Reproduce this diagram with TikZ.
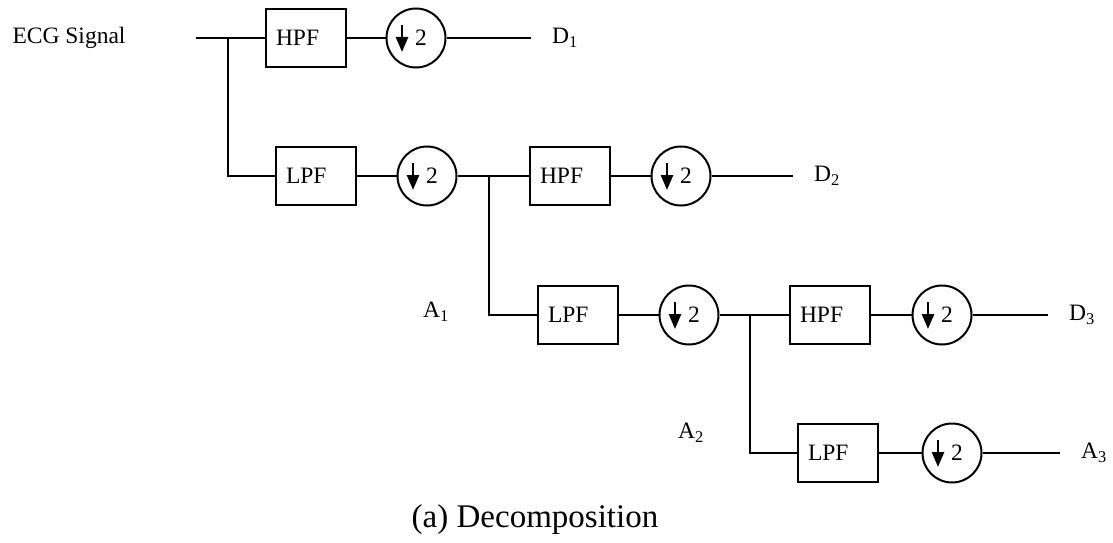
\documentclass[tikz,border=0pt]{standalone}
\usepackage{fontspec}
\setmainfont{Liberation Serif}
\usetikzlibrary{arrows.meta}
\newcommand{\dwtfont}{\fontsize{23.5}{27}\selectfont}
\newcommand{\capfont}{\fontsize{33}{38}\selectfont}

\begin{document}
\begin{tikzpicture}[
    x=1pt,y=-1pt,line width=2pt,
    filt/.style={draw,minimum width=80pt,minimum height=58pt,text width=60pt,align=left,inner xsep=8pt,inner ysep=0pt,font=\dwtfont},
    down/.style={draw,circle,minimum size=59pt,inner sep=0pt,font=\dwtfont},
    tag/.style={inner sep=0pt,outer xsep=21pt,font=\dwtfont},
    side/.style={inner sep=0pt,font=\dwtfont},
    dnarrow/.style={-{Triangle[width=12pt,length=15pt]},line width=2.6pt}
  ]
  \useasboundingbox (0,0) rectangle (1113,543);

  \node[side] (ecg) at (69,38) {ECG Signal};
  \coordinate (in) at (196,38);
  \coordinate (j1) at (228,38);
  \coordinate (j2) at (489,176);
  \coordinate (j3) at (750,315);

  % level 1
  \node[filt] (hpf1) at (306,38) {HPF};
  \node[down] (ds1) at (416,38) {\hspace*{10pt}2};
  \node[tag] (D1) at (565,38) {D\textsubscript{1}};

  % level 2
  \node[filt] (lpf2) at (316,176) {LPF};
  \node[down] (ds2) at (427,176) {\hspace*{10pt}2};
  \node[filt] (hpf2) at (570,176) {HPF};
  \node[down] (ds3) at (681,176) {\hspace*{10pt}2};
  \node[tag] (D2) at (827,176) {D\textsubscript{2}};
  \node[side] (A1) at (436,312) {A\textsubscript{1}};

  % level 3
  \node[filt] (lpf3) at (578,315) {LPF};
  \node[down] (ds4) at (689,315) {\hspace*{10pt}2};
  \node[filt] (hpf3) at (830,315) {HPF};
  \node[down] (ds5) at (942,315) {\hspace*{10pt}2};
  \node[tag] (D3) at (1082,315) {D\textsubscript{3}};
  \node[side] (A2) at (691,433) {A\textsubscript{2}};

  % level 4
  \node[filt] (lpf4) at (838,453) {LPF};
  \node[down] (ds6) at (952,453) {\hspace*{10pt}2};
  \node[tag] (A3) at (1094,453) {A\textsubscript{3}};

  \node[font=\capfont] (cap) at (535,520) {(a) Decomposition};

  \draw (in) -- (hpf1) -- (ds1) -- (D1);
  \draw (j1) |- (lpf2) -- (ds2) -- (hpf2) -- (ds3) -- (D2);
  \draw (j2) |- (lpf3) -- (ds4) -- (hpf3) -- (ds5) -- (D3);
  \draw (j3) |- (lpf4) -- (ds6) -- (A3);

  \foreach \d in {ds1,ds2,ds3,ds4,ds5,ds6}
    \draw[dnarrow] ([xshift=-14pt,yshift=13pt]\d.center) -- ([xshift=-14pt,yshift=-14pt]\d.center);
\end{tikzpicture}
\end{document}
